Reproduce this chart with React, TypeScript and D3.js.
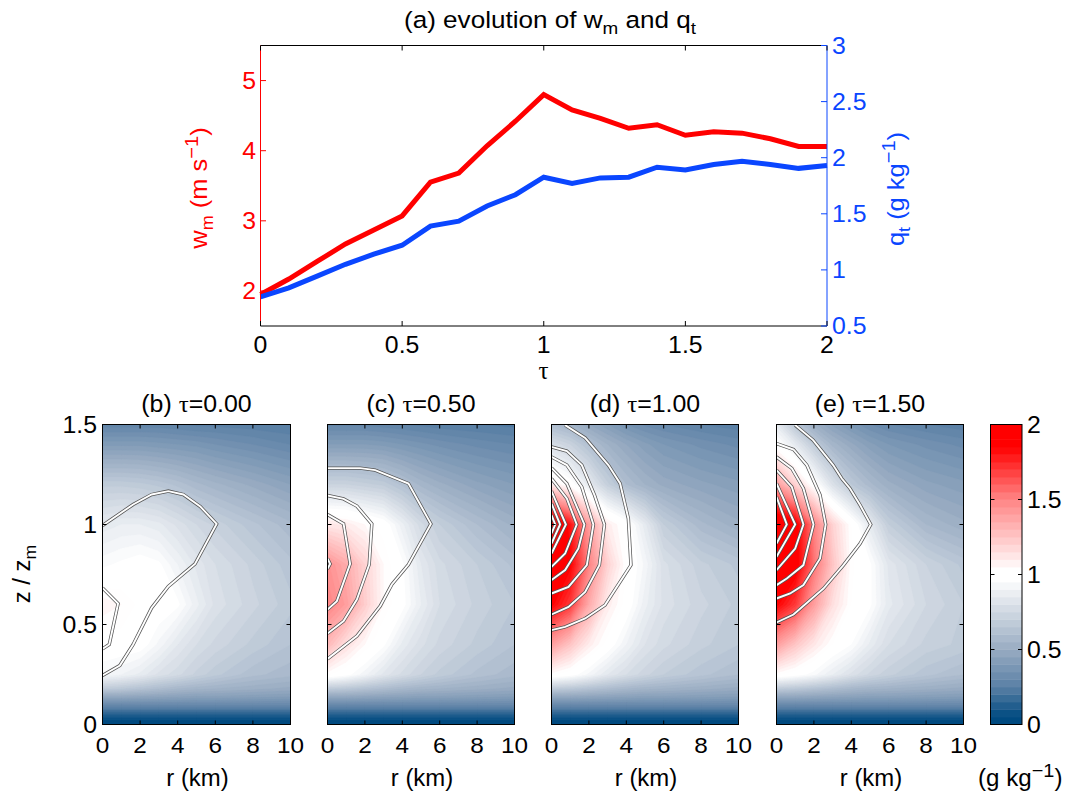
import React from "react";
import * as d3 from "d3";

const tau = [0,0.1,0.2,0.3,0.4,0.5,0.6,0.7,0.8,0.9,1,1.1,1.2,1.3,1.4,1.5,1.6,1.7,1.8,1.9,2];
const wm = [1.95,2.17,2.42,2.67,2.87,3.07,3.55,3.68,4.07,4.42,4.8,4.58,4.46,4.32,4.37,4.22,4.27,4.25,4.17,4.06,4.06];
const qt = [0.76,0.84,0.945,1.05,1.14,1.22,1.39,1.434,1.57,1.67,1.826,1.77,1.82,1.826,1.915,1.89,1.94,1.968,1.94,1.905,1.93];
const tauTicks = [0,0.5,1,1.5,2];
const wmTicks = [2,3,4,5];
const qtTicks = [0.5,1,1.5,2,2.5,3];
const rTicks = [0,2,4,6,8,10];
const zTicks = [0,0.5,1,1.5];
const cbTicks = [0,0.5,1,1.5,2];

const rGrid = [0,1,2,3,4,5,6,8,10];
const zGrid = [0,0.05,0.1,0.14,0.18,0.25,0.4,0.6,0.8,1,1.2,1.4,1.5];
const lowRows = [
  [0,0,0,0,0,0,0,0,0],
  [0.13,0.13,0.13,0.13,0.13,0.13,0.13,0.13,0.13],
  [0.31,0.31,0.31,0.31,0.31,0.31,0.31,0.31,0.31],
  [0.48,0.48,0.47,0.46,0.45,0.44,0.44,0.43,0.42],
  [0.68,0.66,0.63,0.6,0.57,0.55,0.54,0.52,0.5],
];
const fieldB = [...lowRows,
  [0.93,0.9,0.86,0.8,0.76,0.71,0.67,0.61,0.58],
  [1.0,1.0,0.99,0.92,0.84,0.78,0.74,0.68,0.63],
  [1.07,1.05,1.01,1.0,0.97,0.88,0.8,0.73,0.67],
  [0.95,0.97,0.99,0.97,0.9,0.83,0.78,0.71,0.64],
  [0.85,0.87,0.87,0.85,0.8,0.75,0.71,0.64,0.58],
  [0.68,0.68,0.67,0.65,0.62,0.58,0.55,0.5,0.45],
  [0.41,0.41,0.41,0.4,0.39,0.38,0.36,0.33,0.3],
  [0.28,0.28,0.28,0.28,0.27,0.26,0.26,0.25,0.24],
];
const fieldC = [...lowRows,
  [1.03,0.98,0.91,0.83,0.77,0.72,0.68,0.62,0.58],
  [1.3,1.15,1.05,0.97,0.86,0.79,0.74,0.68,0.63],
  [1.5,1.4,1.22,1.05,0.98,0.87,0.78,0.71,0.66],
  [1.45,1.35,1.2,1.05,0.97,0.84,0.76,0.69,0.62],
  [1.12,1.1,1.05,1.0,0.88,0.76,0.69,0.6,0.53],
  [0.72,0.72,0.7,0.68,0.62,0.56,0.52,0.46,0.42],
  [0.42,0.42,0.42,0.41,0.39,0.37,0.35,0.32,0.3],
  [0.29,0.29,0.29,0.28,0.27,0.26,0.25,0.24,0.23],
];
const fieldD = [...lowRows,
  [1.03,0.99,0.92,0.84,0.78,0.73,0.69,0.64,0.6],
  [1.4,1.25,1.1,1.0,0.9,0.81,0.76,0.7,0.66],
  [1.85,1.7,1.35,1.1,1.0,0.88,0.8,0.73,0.68],
  [2.0,1.85,1.5,1.2,1.02,0.92,0.79,0.7,0.65],
  [2.0,1.8,1.4,1.1,1.0,0.85,0.69,0.58,0.52],
  [1.1,1.0,0.85,0.7,0.6,0.54,0.5,0.46,0.43],
  [0.78,0.72,0.62,0.54,0.48,0.43,0.39,0.35,0.32],
  [0.6,0.55,0.48,0.42,0.36,0.32,0.3,0.27,0.25],
];
const fieldE = [...lowRows,
  [1.03,0.99,0.94,0.87,0.8,0.74,0.7,0.64,0.6],
  [1.4,1.25,1.12,1.02,0.96,0.86,0.78,0.71,0.68],
  [1.85,1.7,1.4,1.15,1.02,0.97,0.85,0.75,0.69],
  [2.0,1.9,1.55,1.25,1.03,0.97,0.83,0.72,0.65],
  [2.0,1.9,1.5,1.2,1.02,0.85,0.69,0.57,0.52],
  [1.4,1.2,1.0,0.8,0.66,0.58,0.52,0.46,0.43],
  [1.0,0.85,0.68,0.56,0.49,0.43,0.39,0.35,0.32],
  [0.85,0.65,0.52,0.44,0.38,0.33,0.3,0.27,0.25],
];

// contour lines as [r, z] pairs
const linesB: number[][][] = [
  [[0,0.995],[1.63,1.1],[2.61,1.15],[3.5,1.167],[4.3,1.15],[5.2,1.09],[6.07,1.003],[4.92,0.803],[3.5,0.69],[2.61,0.583],[1.63,0.4],[0.92,0.295],[0,0.245]],
  [[0,0.683],[0.83,0.605],[0.36,0.4],[0,0.378]],
];
const linesC: number[][][] = [
  [[0,1.282],[1.75,1.282],[2.55,1.272],[4.33,1.205],[5.53,1.003],[4.33,0.8],[3.44,0.7],[2.82,0.592],[1.57,0.442],[0,0.328]],
  [[0,1.145],[0.86,1.128],[1.57,1.092],[2.37,1.003],[2.23,0.8],[1.57,0.625],[0.86,0.517],[0,0.455]],
  [[0,1.05],[0.86,1.003],[1.21,0.803],[0.5,0.617],[0,0.575]],
  [[0,0.83],[0.14,0.803],[0,0.778]],
];
const linesD: number[][][] = [
  [[0.73,1.497],[1.8,1.433],[3.04,1.297],[3.67,1.205],[4.11,1.03],[4.25,0.797],[2.86,0.597],[1.8,0.53],[0.73,0.488],[0,0.472]],
  [[0,1.388],[0.82,1.367],[1.62,1.297],[2.3,1.147],[2.83,1],[2.56,0.797],[1.8,0.663],[0.91,0.588],[0,0.55]],
  [[0,1.338],[0.82,1.297],[1.62,1.188],[2.24,1],[1.89,0.797],[0.91,0.688],[0,0.655]],
  [[0,1.283],[0.82,1.205],[1.76,1],[1.44,0.88],[0.73,0.772],[0,0.722]],
  [[0,1.23],[0.82,1.13],[1.35,1],[0.73,0.855],[0,0.788]],
  [[0,1.167],[0.77,1],[0,0.855]],
  [[0,1.105],[0.46,1],[0,0.905]],
  [[0,1.047],[0.2,1],[0,0.955]],
];
const linesE: number[][][] = [
  [[1,1.497],[1.96,1.422],[3.03,1.297],[3.49,1.23],[3.93,1.18],[4.47,1.097],[5.04,1],[4.47,0.905],[3.58,0.797],[2.51,0.68],[0.91,0.55],[0,0.51]],
  [[0,1.405],[0.91,1.375],[1.62,1.297],[2.33,1.147],[2.63,1],[2.33,0.83],[1.44,0.697],[0.73,0.655],[0,0.63]],
  [[0,1.338],[0.82,1.28],[1.44,1.18],[1.98,1],[1.44,0.797],[0.55,0.73],[0,0.697]],
  [[0,1.272],[0.82,1.188],[1.44,1],[1,0.88],[0,0.772]],
  [[0,1.205],[1,1],[0,0.838]],
  [[0,1.138],[0.55,1],[0,0.905]],
];

const colorStops = [0,0.05,0.25,0.5,0.75,0.97,1.03,1.5,1.85,2];
const colorValues = ["#004a80","#004a80","#5a80a5","#98abc2","#d0d8e2","#ffffff","#ffffff","#ff8585","#ff0000","#ff0000"];
const color = d3.scaleLinear<string>().domain(colorStops).range(colorValues).clamp(true);
const barLevels = d3.range(0, 2, 0.05);
const fillLevels = d3.range(0, 2.01, 0.03);

const FONT = "'Liberation Sans', Arial, sans-serif";
const SERIF = "'Liberation Serif', serif";
const RED = "#ff0000";
const BLUE = "#0a46ff";

function T({ x, y, sx = 1.08, rot = 0, size = 23, anchor = "start", fill = "#000", children }: any) {
  return (
    <g transform={`translate(${x},${y}) rotate(${rot}) scale(${sx},1)`}>
      <text textAnchor={anchor} fontSize={size} fill={fill}>{children}</text>
    </g>
  );
}

const panels = [
  { id: "b", letter: "(b) ", stamp: "=0.00", x0: 102.5, x1: 290.5, field: fieldB, lines: linesB },
  { id: "c", letter: "(c) ", stamp: "=0.50", x0: 327.5, x1: 514.5, field: fieldC, lines: linesC },
  { id: "d", letter: "(d) ", stamp: "=1.00", x0: 551.5, x1: 738.5, field: fieldD, lines: linesD },
  { id: "e", letter: "(e) ", stamp: "=1.50", x0: 776.5, x1: 963.5, field: fieldE, lines: linesE },
];
const pY0 = 724.5, pY1 = 424.5;

function Panel({ p, labels }: { p: typeof panels[number]; labels: boolean }) {
  const x = d3.scaleLinear().domain([0, 10]).range([p.x0, p.x1]);
  const y = d3.scaleLinear().domain([0, 1.5]).range([pY0, pY1]);
  const n = rGrid.length, m = zGrid.length;
  const rOf = d3.scaleLinear().domain(d3.range(n)).range(rGrid).clamp(true);
  const zOf = d3.scaleLinear().domain(d3.range(m)).range(zGrid).clamp(true);
  const flat = p.field.flat();
  const gen = d3.contours().size([n, m]).thresholds(fillLevels);
  const transform = d3.geoTransform({
    point(px: number, py: number) {
      (this as any).stream.point(x(rOf(px - 0.5)), y(zOf(py - 0.5)));
    },
  });
  const path = d3.geoPath(transform as any);
  const line = d3.line<number[]>().x((d) => x(d[0])).y((d) => y(d[1]));
  return (
    <g>
      <defs>
        <clipPath id={"clip-" + p.id}>
          <rect x={p.x0} y={pY1} width={p.x1 - p.x0} height={pY0 - pY1} />
        </clipPath>
      </defs>
      <g clipPath={`url(#clip-${p.id})`}>
        <rect x={p.x0} y={pY1} width={p.x1 - p.x0} height={pY0 - pY1} fill={color(0)} />
        {gen(flat).map((c: any, i: number) => (
          <path key={i} d={path(c) || ""} fill={color(c.value + 0.015)} stroke={color(c.value + 0.015)} strokeWidth={0.3} />
        ))}
        {p.lines.map((l, i) => (
          <g key={i} fill="none" strokeLinejoin="miter">
            <path d={line(l) || ""} stroke="#555555" strokeWidth={3.4} />
            <path d={line(l) || ""} stroke="#ffffff" strokeWidth={1.9} />
          </g>
        ))}
      </g>
      <rect x={p.x0} y={pY1} width={p.x1 - p.x0} height={pY0 - pY1} fill="none" stroke="#000" strokeWidth={1} />
      {rTicks.map((t) => (
        <g key={t}>
          <line x1={x(t)} x2={x(t)} y1={pY0} y2={pY0 - 4} stroke="#000" />
          <line x1={x(t)} x2={x(t)} y1={pY1} y2={pY1 + 4} stroke="#000" />
          <T x={x(t)} y={752.5} anchor="middle" size={22.5}>{t}</T>
        </g>
      ))}
      {zTicks.map((t) => (
        <g key={t}>
          <line x1={p.x0} x2={p.x0 + 4} y1={y(t)} y2={y(t)} stroke="#000" />
          <line x1={p.x1} x2={p.x1 - 4} y1={y(t)} y2={y(t)} stroke="#000" />
          {labels && <T x={p.x0 - 5.5} y={y(t) + 8.5} anchor="end">{t}</T>}
        </g>
      ))}
      <T x={(p.x0 + p.x1) / 2} y={412} anchor="middle" sx={1.06} size={23.5}>
        {p.letter}<tspan fontFamily={SERIF}>τ</tspan>{p.stamp}
      </T>
      <T x={(p.x0 + p.x1) / 2 + 1} y={786} anchor="middle" sx={1.04}>r (km)</T>
    </g>
  );
}

export default function App() {
  const x = d3.scaleLinear().domain([0, 2]).range([260.5, 827]);
  const yL = d3.scaleLinear().domain([1.5, 5.5]).range([326, 45.5]);
  const yR = d3.scaleLinear().domain([0.5, 3]).range([326, 45.5]);
  const lineL = d3.line<number>().x((_, i) => x(tau[i])).y((d) => yL(d));
  const lineR = d3.line<number>().x((_, i) => x(tau[i])).y((d) => yR(d));
  const cbX0 = 990.5, cbX1 = 1022;
  const cbY = d3.scaleLinear().domain([0, 2]).range([pY0, pY1]);
  return (
    <svg width={1076} height={792} viewBox="0 0 1076 792" fontFamily={FONT}
      style={{ position: "absolute", left: 0, top: 0, display: "block" }}>
      <rect width={1076} height={792} fill="#fff" />
      <T x={550} y={28} anchor="middle" sx={1.11} size={23.5}>
        (a) evolution of w<tspan dy={6} fontSize={17}>m</tspan><tspan dy={-6}> and q</tspan><tspan dy={6} fontSize={17}>t</tspan>
      </T>
      <path d={lineL(wm) || ""} fill="none" stroke={RED} strokeWidth={5} strokeLinejoin="miter" />
      <path d={lineR(qt) || ""} fill="none" stroke={BLUE} strokeWidth={5} strokeLinejoin="miter" />
      <line x1={260.5} x2={827} y1={45.5} y2={45.5} stroke="#000" />
      <line x1={260.5} x2={827} y1={326} y2={326} stroke="#000" />
      <line x1={260.5} x2={260.5} y1={45.5} y2={326} stroke={RED} />
      <line x1={827} x2={827} y1={45.5} y2={326} stroke={BLUE} />
      {tauTicks.map((t) => (
        <g key={t}>
          <line x1={x(t)} x2={x(t)} y1={326} y2={321} stroke="#000" />
          <line x1={x(t)} x2={x(t)} y1={45.5} y2={50.5} stroke="#000" />
          <T x={x(t)} y={353} anchor="middle">{t}</T>
        </g>
      ))}
      {wmTicks.map((t) => (
        <g key={t}>
          <line x1={260.5} x2={266} y1={yL(t)} y2={yL(t)} stroke={RED} />
          <T x={256} y={yL(t) + 8.5} anchor="end" fill={RED}>{t}</T>
        </g>
      ))}
      {qtTicks.map((t) => (
        <g key={t}>
          <line x1={827} x2={821} y1={yR(t)} y2={yR(t)} stroke={BLUE} />
          <T x={832} y={yR(t) + 8} fill={BLUE}>{t}</T>
        </g>
      ))}
      <text x={543.5} y={379} textAnchor="middle" fontSize={25} fontFamily={SERIF}>τ</text>
      <T x={207} y={188} rot={-90} anchor="middle" sx={1.06} size={24} fill={RED}>
        w<tspan dy={6} fontSize={17}>m</tspan><tspan dy={-6}>{"\u00A0(m s"}</tspan><tspan dy={-9} fontSize={19}>−1</tspan><tspan dy={9}>)</tspan>
      </T>
      <T x={904} y={189} rot={-90} anchor="middle" sx={1.06} size={24} fill={BLUE}>
        q<tspan dy={6} fontSize={17}>t</tspan><tspan dy={-6}>{"\u00A0(g kg"}</tspan><tspan dy={-9} fontSize={19}>−1</tspan><tspan dy={9}>)</tspan>
      </T>

      {panels.map((p, i) => <Panel key={p.id} p={p} labels={i === 0} />)}

      <T x={30} y={574} rot={-90} anchor="middle" sx={1.04}>
        z / z<tspan dy={6} fontSize={17}>m</tspan>
      </T>

      {barLevels.map((l) => (
        <rect key={l} x={cbX0} width={cbX1 - cbX0} y={cbY(l + 0.05)} height={cbY(l) - cbY(l + 0.05) + 0.4} fill={color(l + 0.025)} />
      ))}
      <rect x={cbX0} y={pY1} width={cbX1 - cbX0} height={pY0 - pY1} fill="none" stroke="#000" />
      {cbTicks.map((t) => (
        <g key={t}>
          <line x1={cbX0} x2={cbX0 + 4} y1={cbY(t)} y2={cbY(t)} stroke="#000" />
          <line x1={cbX1} x2={cbX1 - 4} y1={cbY(t)} y2={cbY(t)} stroke="#000" />
          <T x={1027} y={cbY(t) + 8.5}>{t}</T>
        </g>
      ))}
      <T x={978} y={785.5} sx={1.05}>
        (g kg<tspan dy={-9} fontSize={19}>−1</tspan><tspan dy={9}>)</tspan>
      </T>
    </svg>
  );
}
